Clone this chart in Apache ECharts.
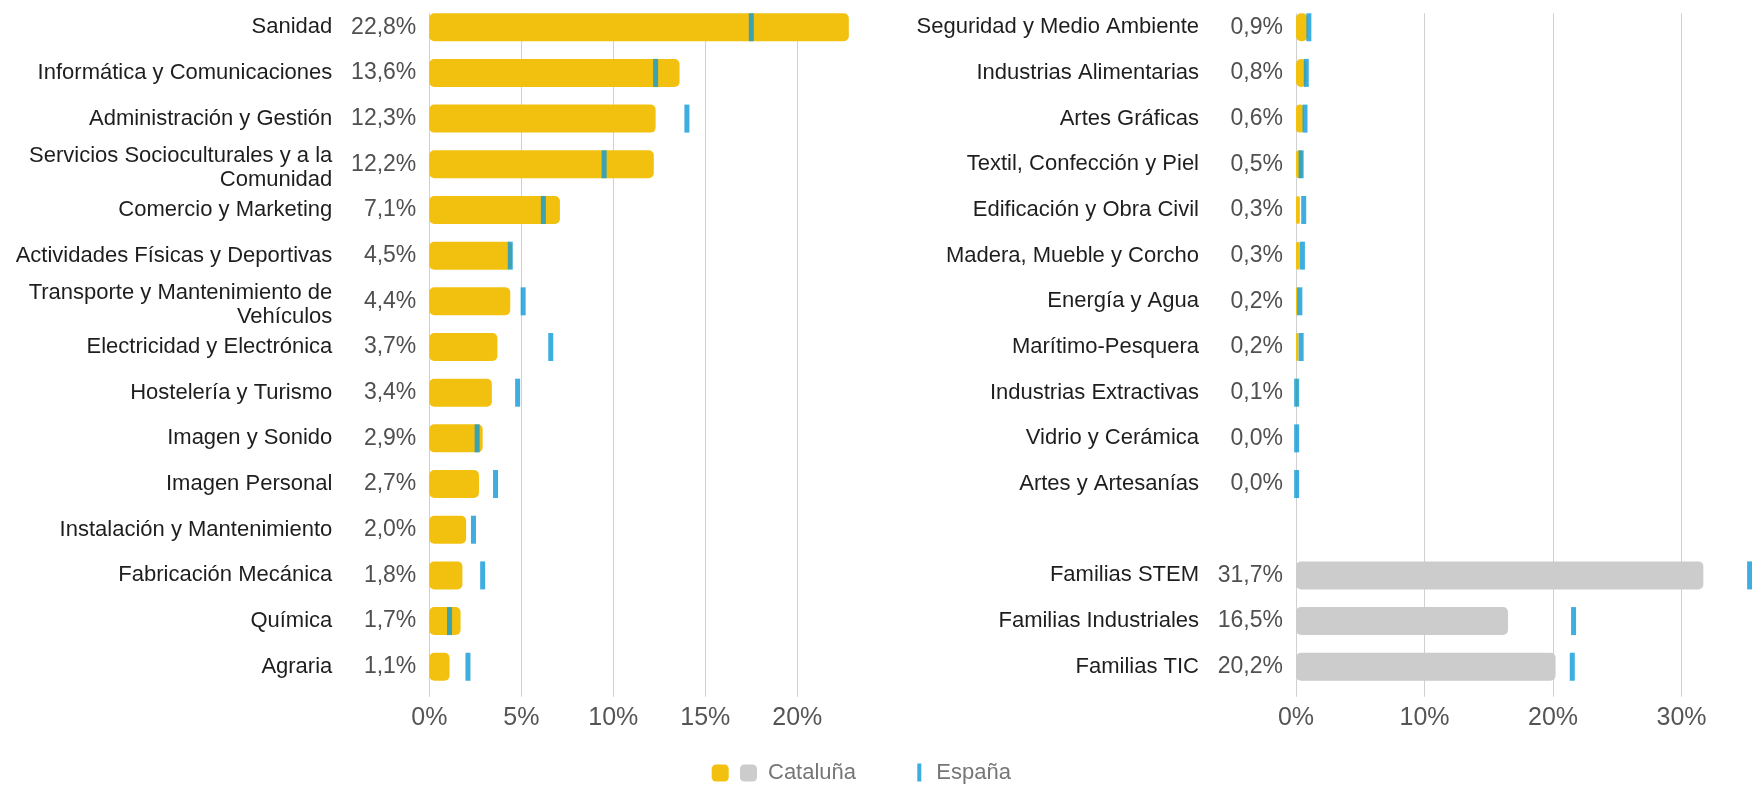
<!DOCTYPE html>
<html>
<head>
<meta charset="utf-8">
<script src="https://cdn.jsdelivr.net/npm/echarts@6/dist/echarts.min.js"></script>
<style>
  html, body { margin: 0; padding: 0; background: #fff; }
  #chart { width: 1752px; height: 785px; }
</style>
</head>
<body>
<div id="chart"></div>
<script>
// familias (izquierda)
const leftCats = [
  'Sanidad', 'Informática y Comunicaciones', 'Administración y Gestión',
  'Servicios Socioculturales y a la\nComunidad', 'Comercio y Marketing',
  'Actividades Físicas y Deportivas', 'Transporte y Mantenimiento de\nVehículos',
  'Electricidad y Electrónica', 'Hostelería y Turismo', 'Imagen y Sonido',
  'Imagen Personal', 'Instalación y Mantenimiento', 'Fabricación Mecánica',
  'Química', 'Agraria'
];
const leftCataluna = [22.8, 13.6, 12.3, 12.2, 7.1, 4.5, 4.4, 3.7, 3.4, 2.9, 2.7, 2.0, 1.8, 1.7, 1.1];
const leftEspana = [17.5, 12.3, 14.0, 9.5, 6.2, 4.4, 5.1, 6.6, 4.8, 2.6, 3.6, 2.4, 2.9, 1.1, 2.1];

// familias (derecha) + agregados
const rightCats = [
  'Seguridad y Medio Ambiente', 'Industrias Alimentarias', 'Artes Gráficas',
  'Textil, Confección y Piel', 'Edificación y Obra Civil', 'Madera, Mueble y Corcho',
  'Energía y Agua', 'Marítimo-Pesquera', 'Industrias Extractivas',
  'Vidrio y Cerámica', 'Artes y Artesanías', '',
  'Familias STEM', 'Familias Industriales', 'Familias TIC'
];
const rightCataluna = [0.9, 0.8, 0.6, 0.5, 0.3, 0.3, 0.2, 0.2, 0.1, 0.0, 0.0, null, null, null, null];
const rightGrupos = [null, null, null, null, null, null, null, null, null, null, null, null, 31.7, 16.5, 20.2];
const rightEspana = [1.0, 0.8, 0.7, 0.4, 0.6, 0.5, 0.3, 0.4, 0.05, 0.05, 0.05, null, 35.3, 21.6, 21.5];

const leftTicks = [0, 5, 10, 15, 20];
const rightTicks = [0, 10, 20, 30];

const YELLOW = '#f2c10f';
const GREY = '#cccccc';
const BLUE = '#0e9ad8';
const FONT = '"Liberation Sans", Arial, sans-serif';

const fmt = v => (v == null ? '' : v.toFixed(1).replace('.', ',') + '%');
const leftLabels = leftCataluna.map(fmt);
const rightLabels = rightCataluna.map((v, i) => fmt(v != null ? v : rightGrupos[i]));
const toPoints = arr => arr.map((v, i) => (v == null ? null : [v, i])).filter(Boolean);

const chart = echarts.init(document.getElementById('chart'));

const nameAxis = (gridIndex, data) => ({
  type: 'category', gridIndex, data, inverse: true, position: 'left',
  axisLine: { show: false }, axisTick: { show: false }, splitLine: { show: false },
  axisLabel: {
    margin: 97, fontSize: 22, color: '#1e1e1e', fontFamily: FONT, lineHeight: 24, align: 'right',
    // las etiquetas de dos líneas quedan un poco más bajas en el original
    formatter: v => (v.includes('\n') ? '{pad| }\n' + v : v),
    rich: { pad: { fontSize: 1, lineHeight: 7, height: 7 } }
  }
});
const valueLabelAxis = (gridIndex, data) => ({
  type: 'category', gridIndex, data, inverse: true, position: 'left', offset: 0,
  axisLine: { show: false }, axisTick: { show: false }, splitLine: { show: false },
  axisLabel: { margin: 13, fontSize: 23, color: '#505050', fontFamily: FONT, align: 'right' }
});
const hiddenX = (gridIndex, max) => ({ type: 'value', gridIndex, min: 0, max, show: false });
const frameX = (gridIndex, max, interval) => ({
  type: 'value', gridIndex, min: 0, max, interval,
  axisLine: { show: false }, axisTick: { show: false },
  splitLine: { show: true, showMaxLine: false, lineStyle: { color: '#d0d0d0', width: 1 } },
  axisLabel: {
    showMaxLabel: false, margin: 9, fontSize: 25, color: '#555555', fontFamily: FONT,
    formatter: v => v + '%'
  }
});
const barStyle = color => ({ color, borderRadius: 5 });
const gridBox = (left, width, top, height) => ({ left, width, top, height, outerBoundsMode: 'none', containLabel: false });

const option = {
  animation: false,
  textStyle: { fontFamily: FONT },
  grid: [
    gridBox(429.3, 460, 4.4, 685.2),   // datos izq.
    gridBox(429.3, 460, 13.3, 683.4),  // rejilla izq.
    gridBox(1296, 514, 4.4, 685.2),    // datos der.
    gridBox(1296, 514, 13.3, 683.4)    // rejilla der.
  ],
  xAxis: [
    hiddenX(0, 25),
    frameX(1, 25, leftTicks[1] - leftTicks[0]),
    hiddenX(2, 40),
    frameX(3, 40, rightTicks[1] - rightTicks[0])
  ],
  yAxis: [
    nameAxis(0, leftCats),
    valueLabelAxis(0, leftLabels),
    { type: 'value', gridIndex: 1, min: 0, max: 1, show: false },
    nameAxis(2, rightCats),
    valueLabelAxis(2, rightLabels),
    { type: 'value', gridIndex: 3, min: 0, max: 1, show: false }
  ],
  legend: [
    {
      data: [{ name: 'Cataluña (familias)', icon: 'roundRect' }],
      left: 711.7, top: 764.5, padding: 0, itemWidth: 17, itemHeight: 17,
      formatter: () => '', selectedMode: false
    },
    {
      data: [{ name: 'Cataluña', icon: 'roundRect' }],
      left: 740, top: 762, padding: 0, itemWidth: 17, itemHeight: 17, selectedMode: false,
      textStyle: { fontSize: 22, color: '#767676', fontFamily: FONT, padding: [0, 0, 0, 6] }
    },
    {
      data: [{ name: 'España', icon: 'rect' }],
      left: 917.3, top: 761.5, padding: 0, itemWidth: 4, itemHeight: 18, selectedMode: false,
      textStyle: { fontSize: 22, color: '#767676', fontFamily: FONT, padding: [0, 0, 0, 10] }
    }
  ],
  series: [
    {
      name: 'Cataluña (familias)', type: 'bar', xAxisIndex: 0, yAxisIndex: 0,
      barWidth: 28, itemStyle: barStyle(YELLOW), data: leftCataluna
    },
    {
      name: 'Cataluña (familias)', type: 'bar', xAxisIndex: 2, yAxisIndex: 3,
      barWidth: 28, barGap: '-100%', itemStyle: barStyle(YELLOW), data: rightCataluna
    },
    {
      name: 'Cataluña', type: 'bar', xAxisIndex: 2, yAxisIndex: 3,
      barWidth: 28, barGap: '-100%', itemStyle: barStyle(GREY), data: rightGrupos
    },
    {
      name: 'España', type: 'scatter', xAxisIndex: 0, yAxisIndex: 0, z: 5,
      symbol: 'rect', symbolSize: [5, 28], itemStyle: { color: BLUE },
      data: toPoints(leftEspana)
    },
    {
      name: 'España', type: 'scatter', xAxisIndex: 2, yAxisIndex: 3, z: 5,
      symbol: 'rect', symbolSize: [5, 28], itemStyle: { color: BLUE },
      data: toPoints(rightEspana)
    }
  ]
};

chart.setOption(option);
</script>
</body>
</html>
